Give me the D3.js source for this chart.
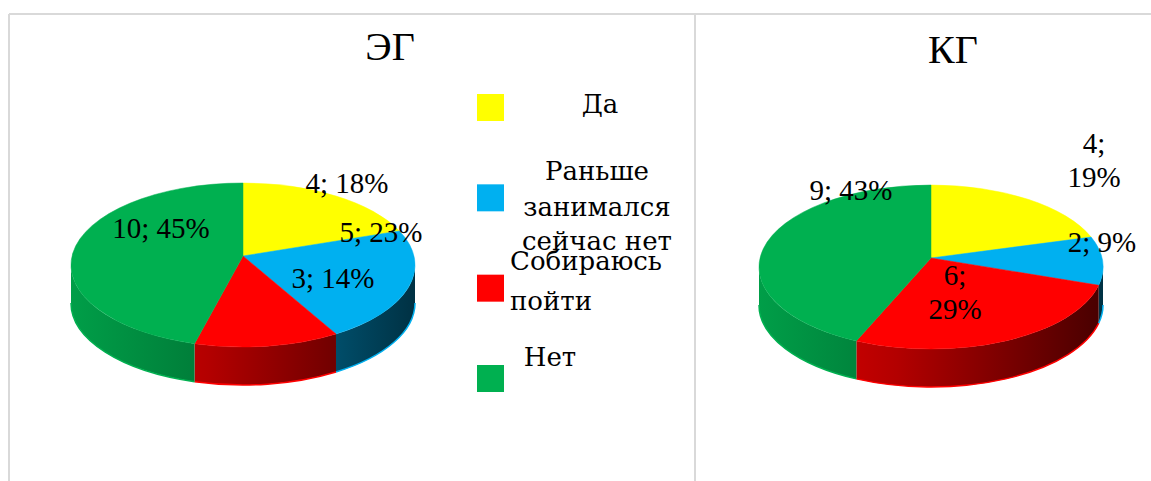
<!DOCTYPE html>
<html>
<head>
<meta charset="utf-8">
<script src="https://cdn.jsdelivr.net/npm/d3@7"></script>
<style>
  body { margin: 0; background: #fff; }
  svg { display: block; }
</style>
</head>
<body>
<svg id="chart" width="1151" height="481"></svg>
<script>
// data
let categories = ["Да", "Раньше занимался сейчас нет", "Собираюсь пойти", "Нет"];
let colors = ["#FFFF00", "#00B0F0", "#FF0000", "#00B050"];
let egValues = [4, 5, 3, 10];
let egPercents = [18, 23, 14, 45];
let kgValues = [4, 2, 6, 9];
let kgPercents = [19, 9, 29, 43];

let fontFamily = "'Times New Roman', 'Liberation Serif', 'DejaVu Serif', serif";
let legendFont = "'DejaVu Serif', serif";
let rx = 172, ry = 82, depth = 38;

let svg = d3.select("#chart");

// panel borders
let borderColor = "#d9d9d9";
svg.append("line").attr("x1", 9).attr("x2", 1151).attr("y1", 14).attr("y2", 14)
  .style("stroke", borderColor).style("stroke-width", "2px");
svg.selectAll(".vline")
  .data([9, 695])
  .enter()
  .append("line")
    .attr("x1", d => d).attr("x2", d => d)
    .attr("y1", 14).attr("y2", 481)
    .style("stroke", borderColor).style("stroke-width", "2px");

let defs = svg.append("defs");

let charts = [
  { id: "eg", title: "ЭГ", values: egValues, pcts: egPercents, cx: 243, cy: 265, titleX: 390, titleY: 60,
    // label anchors relative to pie centre, and whether the label wraps after ";"
    labels: [[104, -72, false], [138, -23, false], [90, 23, false], [-82, -27, false]] },
  { id: "kg", title: "КГ", values: kgValues, pcts: kgPercents, cx: 931, cy: 267, titleX: 953, titleY: 63,
    labels: [[163, -114, true], [171, -15, false], [24, 18, true], [-80, -67, false]] }
];

let pie = d3.pie().sort(null).startAngle(0).endAngle(2 * Math.PI);

function rim(c, a, dy) {
  return [c.cx + rx * Math.sin(a), c.cy - ry * Math.cos(a) + (dy || 0)];
}

function topPath(c, d) {
  let p0 = rim(c, d.startAngle), p1 = rim(c, d.endAngle);
  let large = (d.endAngle - d.startAngle) > Math.PI ? 1 : 0;
  let apex = [c.cx, c.cy - 9];
  return "M" + apex + "L" + p0 + "A" + rx + "," + ry + " 0 " + large + " 1 " + p1 + "Z";
}

function sidePath(c, d) {
  let s0 = Math.max(d.startAngle, Math.PI / 2);
  let s1 = Math.min(d.endAngle, 3 * Math.PI / 2);
  if (s1 <= s0) return null;
  let a = rim(c, s0), b = rim(c, s1), b2 = rim(c, s1, depth), a2 = rim(c, s0, depth);
  return "M" + a + "A" + rx + "," + ry + " 0 0 1 " + b + "L" + b2 +
    "A" + rx + "," + ry + " 0 0 0 " + a2 + "Z";
}

function bottomPath(c, d) {
  let s0 = Math.max(d.startAngle, Math.PI / 2);
  let s1 = Math.min(d.endAngle, 3 * Math.PI / 2);
  if (s1 <= s0) return null;
  return "M" + rim(c, s0, depth) + "A" + rx + "," + ry + " 0 0 1 " + rim(c, s1, depth);
}

function shade(col, k) {
  let c = d3.rgb(col);
  return d3.rgb(c.r * k, c.g * k, c.b * k).formatHex();
}

charts.forEach(function(c) {
  let arcs = pie(c.values);
  let g = svg.append("g");

  // side gradients, light on the left, dark on the right
  colors.forEach(function(col, i) {
    let grad = defs.append("linearGradient")
      .attr("id", c.id + "side" + i)
      .attr("gradientUnits", "userSpaceOnUse")
      .attr("x1", c.cx - rx).attr("x2", c.cx + rx)
      .attr("y1", 0).attr("y2", 0);
    grad.append("stop").attr("offset", 0).attr("stop-color", shade(col, 0.9));
    grad.append("stop").attr("offset", 0.4).attr("stop-color", shade(col, 0.7));
    grad.append("stop").attr("offset", 1).attr("stop-color", shade(col, 0.28));
  });

  // front walls
  g.selectAll(".side")
    .data(arcs.filter(d => sidePath(c, d)))
    .enter()
    .append("path")
      .attr("d", d => sidePath(c, d))
      .style("fill", d => "url(#" + c.id + "side" + d.index + ")");
  g.selectAll(".bottomEdge")
    .data(arcs.filter(d => bottomPath(c, d)))
    .enter()
    .append("path")
      .attr("d", d => bottomPath(c, d))
      .style("fill", "none")
      .style("stroke", d => colors[d.index])
      .style("stroke-width", "1.5px");

  // top faces
  g.selectAll(".top")
    .data(arcs)
    .enter()
    .append("path")
      .attr("d", d => topPath(c, d))
      .style("fill", d => colors[d.index])
      .style("stroke", d => colors[d.index])
      .style("stroke-width", "0.5px");

  // title
  svg.append("text")
    .attr("x", c.titleX).attr("y", c.titleY)
    .text(c.title)
    .style("text-anchor", "middle")
    .style("font-family", fontFamily)
    .style("font-size", "40px");

  // data labels
  arcs.forEach(function(d, i) {
    let pos = c.labels[i];
    let lines = pos[2]
      ? [c.values[i] + ";", c.pcts[i] + "%"]
      : [c.values[i] + "; " + c.pcts[i] + "%"];
    let t = svg.append("text")
      .attr("x", c.cx + pos[0])
      .attr("y", c.cy + pos[1])
      .style("text-anchor", "middle")
      .style("font-family", fontFamily)
      .style("font-size", "29px");
    lines.forEach(function(l, j) {
      t.append("tspan").attr("x", c.cx + pos[0]).attr("dy", j === 0 ? 0 : 34).text(l);
    });
  });
});

// legend
let legendY = d3.scalePoint().domain(categories).range([107, 378]);
svg.selectAll(".legendRect")
  .data(categories)
  .enter()
  .append("rect")
    .attr("x", 477)
    .attr("y", d => legendY(d) - 13)
    .attr("width", 27)
    .attr("height", 27)
    .style("fill", (d, i) => colors[i]);

// legend text layout: lines, anchor, x, baselines
let legendText = [
  { lines: ["Да"], anchor: "middle", x: 600, ys: [113] },
  { lines: ["Раньше", "занимался", "сейчас нет"], anchor: "middle", x: 597, ys: [180, 216, 250] },
  { lines: ["Собираюсь", "пойти"], anchor: "start", x: 510, ys: [270, 310] },
  { lines: ["Нет"], anchor: "middle", x: 550, ys: [366] }
];
legendText.forEach(function(lt) {
  svg.selectAll(null)
    .data(lt.lines)
    .enter()
    .append("text")
      .attr("x", lt.x)
      .attr("y", (d, j) => lt.ys[j])
      .text(d => d)
      .style("text-anchor", lt.anchor)
      .style("font-family", legendFont)
      .style("font-size", "26px");
});
</script>
</body>
</html>
